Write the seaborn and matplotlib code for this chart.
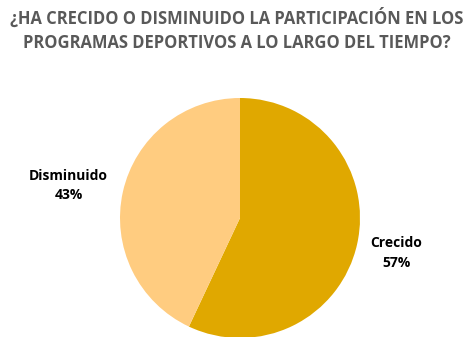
import numpy as np
import matplotlib
matplotlib.use("Agg")
import matplotlib.pyplot as plt
import seaborn as sns

# Survey answers and their shares (percent)
categories = ["Crecido", "Disminuido"]
shares = [57, 43]
colors = ["#E0A800", "#FFCC80"]
title = "¿HA CRECIDO O DISMINUIDO LA PARTICIPACIÓN EN LOS\nPROGRAMAS DEPORTIVOS A LO LARGO DEL TIEMPO?"

sns.set_style("white")
plt.rcParams["font.family"] = ["Open Sans", "DejaVu Sans"]

W, H = 469, 337
fig = plt.figure(figsize=(W / 100, H / 100), dpi=100)

# Pie axes: centre at (240, 218) px from top-left, radius 120 px
cx, cy, r = 240, 218, 120
ax = fig.add_axes([(cx - r) / W, (H - cy - r) / H, 2 * r / W, 2 * r / H])
wedges, _ = ax.pie(
    shares,
    colors=colors,
    startangle=90,
    counterclock=False,
    radius=1,
    wedgeprops=dict(linewidth=0),
)
ax.set_xlim(-1, 1)
ax.set_ylim(-1, 1)
ax.set_aspect("equal")
ax.axis("off")

# Label anchor points outside the pie (in pie-radius units)
label_pos = [(1.30, -0.29), (-1.43, 0.27)]
for (lx, ly), cat, val in zip(label_pos, categories, shares):
    ax.text(lx, ly, f"{cat}\n{val}%",
            ha="center", va="center", fontsize=10, fontweight="bold",
            color="black", linespacing=1.5, clip_on=False)

fig.text(0.505, 1 - 30 / H, title, ha="center", va="center",
         fontsize=11.9, fontweight="bold", color="#595959", linespacing=1.4)

fig.savefig("out.png", dpi=100, facecolor="white")
